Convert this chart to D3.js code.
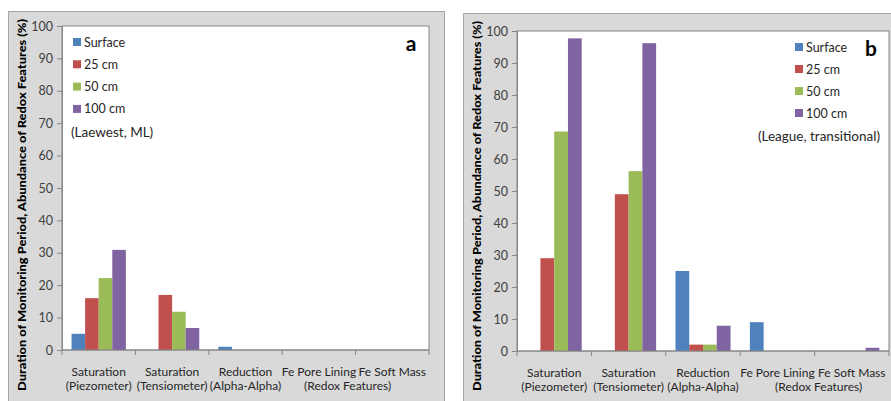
<!DOCTYPE html>
<html>
<head>
<meta charset="utf-8">
<script src="https://cdn.jsdelivr.net/npm/d3@7"></script>
<style>
  body { margin: 0; background: #fff; }
  svg { display: block; font-family: Lato, "Open Sans", sans-serif; }
</style>
</head>
<body>
<svg id="chart" width="891" height="401"></svg>
<script>
// ------------------------------------
// Data
// ------------------------------------
const categories = ["Sat-Piezo", "Sat-Tensio", "Reduction", "Fe Pore Lining", "Fe Soft Mass"];
const categoryLabels = [
  ["Saturation", "(Piezometer)"],
  ["Saturation", "(Tensiometer)"],
  ["Reduction", "(Alpha-Alpha)"],
  ["Fe Pore Lining"],
  ["Fe Soft Mass"]
];
const seriesNames = ["Surface", "25 cm", "50 cm", "100 cm"];
const seriesColors = ["#4F81BD", "#C0504D", "#9BBB59", "#8064A2"];
const yTicks = [0, 10, 20, 30, 40, 50, 60, 70, 80, 90, 100];

// (a) Laewest, ML
const laewestSurface = [5, 0, 1, 0, 0];
const laewest25 = [16, 17, 0, 0, 0];
const laewest50 = [22.2, 11.8, 0, 0, 0];
const laewest100 = [30.9, 6.8, 0, 0, 0];

// (b) League, transitional
const leagueSurface = [0, 0, 25, 9, 0];
const league25 = [29, 49, 2, 0, 0];
const league50 = [68.6, 56.2, 2, 0, 0];
const league100 = [97.7, 96.2, 7.9, 0, 1];

const yTitle = "Duration of Monitoring Period, Abundance of Redox Features (%)";

// ------------------------------------
// Panels
// ------------------------------------
const panels = [
  {
    letter: "a", site: "(Laewest, ML)",
    values: [laewestSurface, laewest25, laewest50, laewest100],
    box: { x: 8, y: 11, w: 437, h: 400 },
    plot: { left: 62, top: 26, right: 429, bottom: 350 },
    titleX: 22, titleY: 205, titleLen: 372,
    legend: { x: 73, y: 42, step: 22.3 },
    siteAt: { x: 71, y: 137, anchor: "start" },
    letterAt: { x: 411, y: 51 },
    redoxShift: -8
  },
  {
    letter: "b", site: "(League, transitional)",
    values: [leagueSurface, league25, league50, league100],
    box: { x: 463, y: 13, w: 440, h: 400 },
    plot: { left: 517, top: 31, right: 889, bottom: 351 },
    titleX: 477, titleY: 206, titleLen: 370,
    legend: { x: 795, y: 47, step: 22 },
    siteAt: { x: 880, y: 141, anchor: "end" },
    letterAt: { x: 871, y: 56 },
    redoxShift: 4
  }
];

const svg = d3.select("#chart");

panels.forEach(p => {
  const g = svg.append("g");

  // grey chart area
  g.append("rect")
    .attr("x", p.box.x + 0.5).attr("y", p.box.y + 0.5)
    .attr("width", p.box.w - 1).attr("height", p.box.h)
    .attr("fill", "#D9D9D9")
    .attr("stroke", "#A6A6A6");

  const x0 = d3.scaleBand()
    .domain(categories)
    .range([p.plot.left, p.plot.right]);

  const gap = x0.bandwidth() * 0.13;
  const x1 = d3.scaleBand()
    .domain(seriesNames)
    .range([gap, x0.bandwidth() - gap]);

  const y = d3.scaleLinear()
    .domain([0, 100])
    .range([p.plot.bottom, p.plot.top]);

  // plot area
  g.append("rect")
    .attr("x", p.plot.left).attr("y", p.plot.top)
    .attr("width", p.plot.right - p.plot.left)
    .attr("height", p.plot.bottom - p.plot.top)
    .attr("fill", "#fff")
    .attr("stroke", "#868686");

  // bars
  p.values.forEach((vals, si) => {
    g.append("g")
      .selectAll("rect")
      .data(vals)
      .join("rect")
      .attr("x", (d, i) => x0(categories[i]) + x1(seriesNames[si]))
      .attr("width", x1.bandwidth())
      .attr("y", d => y(d))
      .attr("height", d => y(0) - y(d))
      .attr("fill", seriesColors[si]);
  });

  // Y axis
  const yAxis = g.append("g")
    .attr("transform", `translate(${p.plot.left},0)`)
    .call(d3.axisLeft(y).tickValues(yTicks).tickSize(5).tickPadding(4));
  yAxis.select(".domain").attr("stroke", "#868686");
  yAxis.selectAll(".tick line").attr("stroke", "#868686");
  yAxis.selectAll(".tick text")
    .attr("fill", "#404040")
    .style("font-size", "12.5px")
    .style("font-family", "Lato, sans-serif");

  // X axis (ticks at category boundaries)
  const xAxis = g.append("g")
    .attr("transform", `translate(0,${p.plot.bottom})`);
  xAxis.append("line")
    .attr("x1", p.plot.left).attr("x2", p.plot.right)
    .attr("stroke", "#868686");
  xAxis.selectAll("line.tk")
    .data(categories.concat(["end"]))
    .join("line")
    .attr("class", "tk")
    .attr("x1", (d, i) => i < categories.length ? x0(d) : p.plot.right)
    .attr("x2", (d, i) => i < categories.length ? x0(d) : p.plot.right)
    .attr("y1", 0).attr("y2", 5)
    .attr("stroke", "#868686");

  categoryLabels.forEach((lines, i) => {
    const t = g.append("text")
      .attr("x", x0(categories[i]) + x0.bandwidth() / 2)
      .attr("y", p.plot.bottom + 26)
      .attr("text-anchor", "middle")
      .attr("fill", "#262626")
      .style("font-size", "12px");
    lines.forEach((ln, k) => {
      t.append("tspan")
        .attr("x", x0(categories[i]) + x0.bandwidth() / 2)
        .attr("dy", k === 0 ? 0 : 14)
        .text(ln);
    });
  });

  // shared sub-label under the redox features
  g.append("text")
    .attr("x", x0(categories[4]) + p.redoxShift)
    .attr("y", p.plot.bottom + 40)
    .attr("text-anchor", "middle")
    .attr("fill", "#262626")
    .style("font-size", "12px")
    .text("(Redox Features)");

  // Y title
  g.append("text")
    .attr("transform", `translate(${p.titleX},${p.titleY}) rotate(-90)`)
    .attr("text-anchor", "middle")
    .attr("dy", "0.35em")
    .attr("textLength", p.titleLen)
    .attr("lengthAdjust", "spacingAndGlyphs")
    .attr("fill", "#000")
    .style("font-size", "12px")
    .style("font-weight", "900")
    .text(yTitle);

  // legend
  const lg = g.append("g");
  seriesNames.forEach((s, i) => {
    const cy = p.legend.y + i * p.legend.step;
    lg.append("rect")
      .attr("x", p.legend.x).attr("y", cy - 4)
      .attr("width", 8).attr("height", 8)
      .attr("fill", seriesColors[i]);
    lg.append("text")
      .attr("x", p.legend.x + 11).attr("y", cy)
      .attr("dy", "0.36em")
      .attr("fill", "#262626")
      .style("font-size", "12.5px")
      .text(s);
  });

  // site annotation
  g.append("text")
    .attr("x", p.siteAt.x).attr("y", p.siteAt.y)
    .attr("text-anchor", p.siteAt.anchor)
    .attr("fill", "#262626")
    .style("font-size", "13.5px")
    .text(p.site);

  // panel letter
  g.append("text")
    .attr("x", p.letterAt.x).attr("y", p.letterAt.y)
    .attr("text-anchor", "middle")
    .attr("fill", "#000")
    .style("font-size", "21px")
    .style("font-weight", "bold")
    .text(p.letter);
});
</script>
</body>
</html>
